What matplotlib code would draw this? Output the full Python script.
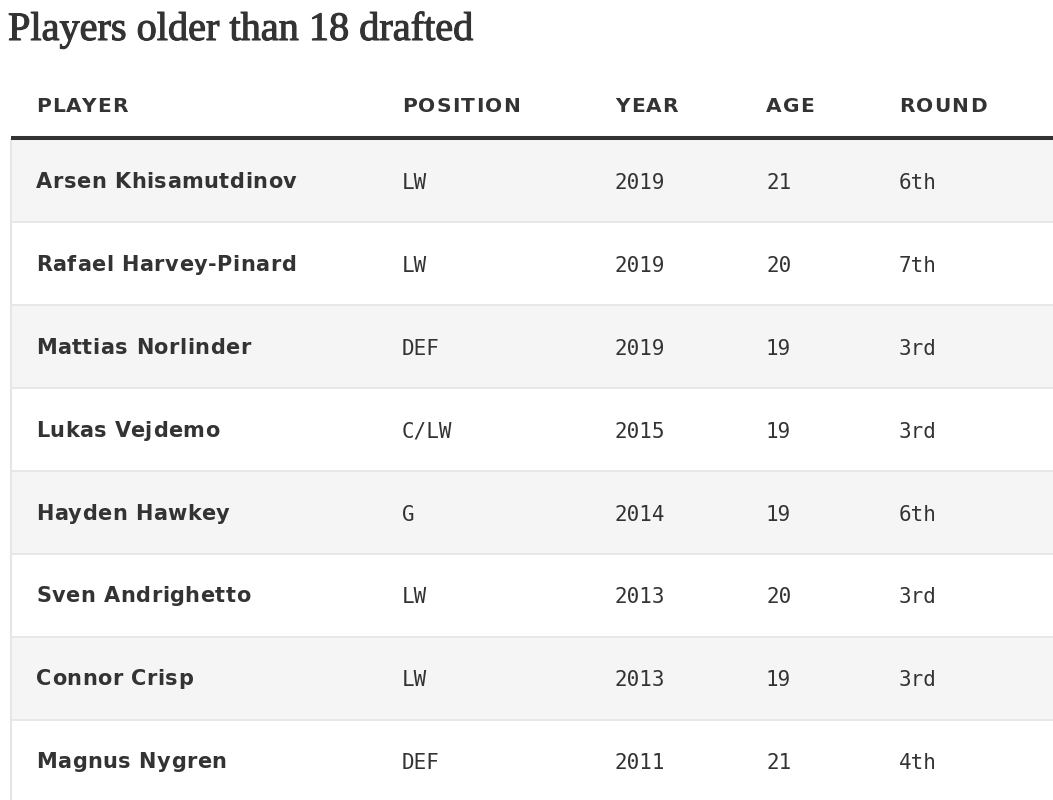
import matplotlib
matplotlib.use("Agg")
import matplotlib.pyplot as plt
from matplotlib.patches import Rectangle
from matplotlib.font_manager import FontProperties
import matplotlib.patheffects as pe

title = "Players older than 18 drafted"
headers = ["PLAYER", "POSITION", "YEAR", "AGE", "ROUND"]
players = ["Arsen Khisamutdinov", "Rafael Harvey-Pinard", "Mattias Norlinder",
           "Lukas Vejdemo", "Hayden Hawkey", "Sven Andrighetto",
           "Connor Crisp", "Magnus Nygren"]
positions = ["LW", "LW", "DEF", "C/LW", "G", "LW", "LW", "DEF"]
years = [2019, 2019, 2019, 2015, 2014, 2013, 2013, 2011]
ages = [21, 20, 19, 19, 19, 20, 19, 21]
rounds = ["6th", "7th", "3rd", "3rd", "6th", "3rd", "3rd", "4th"]

W, H = 1053, 800
fig = plt.figure(figsize=(W / 100, H / 100), dpi=100)
ax = fig.add_axes([0, 0, 1, 1])
ax.set_xlim(0, W)
ax.set_ylim(H, 0)
ax.axis("off")
renderer = fig.canvas.get_renderer()

txt = "#333333"
col_x = [36, 402, 615, 766, 899]
left = 11
top = 139.5
row_h = 82.9


def width_px(s, prop):
    if not s:
        return 0.0
    w, h, d = renderer.get_text_width_height_descent(s, prop, ismath=False)
    return w


def tracked(x, y, s, prop, track):
    # draw text letter by letter with extra spacing (px)
    for k, ch in enumerate(s):
        if ch == " ":
            continue
        xk = x + width_px(s[:k + 1], prop) - width_px(ch, prop) + k * track
        ax.text(xk, y, ch, fontproperties=prop, color=txt, va="baseline", ha="left")


ax.text(8, 40, title, fontsize=29, family="Liberation Serif", color=txt,
        va="baseline", ha="left",
        path_effects=[pe.withStroke(linewidth=0.8, foreground=txt)])

head_prop = FontProperties(family="DejaVu Sans", weight="bold", size=14.5)
for x, h in zip(col_x, headers):
    tracked(x, 112.3, h, head_prop, 1.2)

name_prop = FontProperties(family="DejaVu Sans", weight="bold", size=15)
for i in range(len(players)):
    y0 = top + i * row_h
    face = "#f5f5f5" if i % 2 == 0 else "white"
    ax.add_patch(Rectangle((left, y0), W - left, row_h, facecolor=face,
                           edgecolor="none", zorder=0))
    ax.plot([left, W], [y0 + row_h, y0 + row_h], color="#e6e6e6", lw=1.3, zorder=1)
    yc = y0 + row_h / 2
    tracked(col_x[0], yc + 7, players[i], name_prop, 0.5)
    vals = [positions[i], str(years[i]), str(ages[i]), rounds[i]]
    for x, v in zip(col_x[1:], vals):
        ax.text(x, yc + 8, v, fontsize=15, family="DejaVu Sans Mono", color=txt,
                va="baseline", ha="left")

ax.plot([left, left], [top, H], color="#e6e6e6", lw=1.5, zorder=1)
ax.plot([left, W], [138, 138], color="#333333", lw=2.9, zorder=2,
        solid_capstyle="butt")

fig.savefig("out.png", dpi=100)
